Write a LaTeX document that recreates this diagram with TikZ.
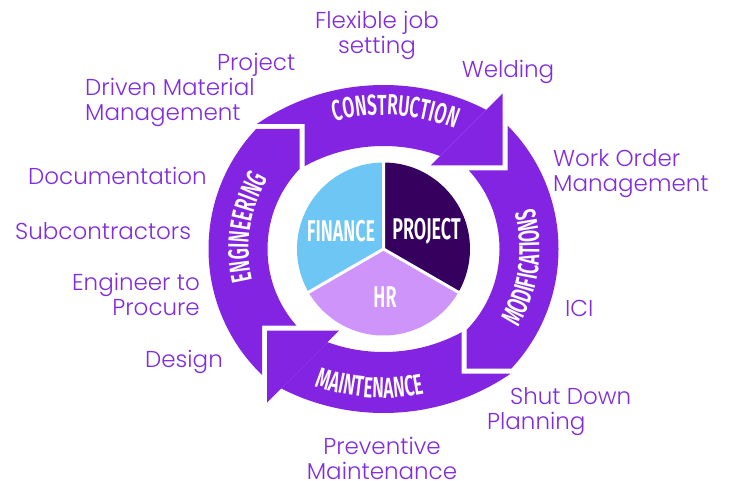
\documentclass[tikz,border=0pt]{standalone}
\usepackage{fontspec}
\usetikzlibrary{decorations.text}
\IfFontExistsTF{Poppins Light}{\newfontfamily\lblfont{Poppins Light}}{\newfontfamily\lblfont{Poppins}}
\IfFontExistsTF{Fira Sans SemiBold}{\newfontfamily\ringfont[FakeStretch=0.6]{Fira Sans SemiBold}}{\newfontfamily\ringfont[FakeStretch=0.6]{Fira Sans Bold}}
\definecolor{ringpurple}{RGB}{130,36,226}
\definecolor{labelpurple}{RGB}{128,44,224}
\definecolor{finblue}{RGB}{110,198,245}
\definecolor{projdark}{RGB}{54,0,94}
\definecolor{hrlilac}{RGB}{207,148,250}
\tikzset{
  ringfill/.style={fill=ringpurple},
  lbl/.style={text=labelpurple, inner sep=0pt, font=\lblfont\fontsize{23}{25}\selectfont},
  pietext/.style={text=white, inner sep=0pt, font=\ringfont\fontsize{30}{30}\selectfont},
  arctext/.style={decorate, decoration={text along path, text align=center, text color=white, text={|\ringfont\fontsize{29}{29}\selectfont|#1}}}
}
\begin{document}
\begin{tikzpicture}[x=1pt,y=-1pt]
\useasboundingbox (0,0) rectangle (736,481);
\coordinate (C) at (383.5,249);
\coordinate (C1) at (383.5,310);
\coordinate (C2) at (383.5,188);

% Engineering
\begin{scope}
\clip (299.5,129) -- (299.5,249) -- (330,249) -- (330,325.5) -- (262,325.5) -- (262,450) -- (150,450) -- (150,129) -- cycle;
\fill[ringfill, even odd rule] (C) circle[radius=175] (C) circle[radius=116];
\end{scope}
% Construction
\begin{scope}
\clip (304.5,124) -- (200,124) -- (200,0) -- (596,0) -- (396,200) -- (304.5,200) -- cycle;
\fill[ringfill, even odd rule] (C1) circle[radius=225] (C1) circle[radius=164];
\end{scope}
\fill[ringfill] (502.5,165.5) -- (502.5,93.5) -- (430.5,165.5) -- cycle;
% Modifications
\begin{scope}
\clip (507.5,170.5) -- (507.5,0) -- (736,0) -- (736,368.5) -- (466.5,368.5) -- (466.5,249) -- (440,249) -- (440,170.5) -- cycle;
\fill[ringfill, even odd rule] (C) circle[radius=175] (C) circle[radius=116];
\end{scope}
% Maintenance
\begin{scope}
\clip (461.5,373.5) -- (620,373.5) -- (620,481) -- (188.5,481) -- (369.5,300) -- (461.5,300) -- cycle;
\fill[ringfill, even odd rule] (C2) circle[radius=225] (C2) circle[radius=164];
\end{scope}
\fill[ringfill] (267,330.5) -- (339,330.5) -- (267,402.5) -- cycle;

% ring texts
\path[arctext=CONSTRUCTION] (C1) ++(-135:195) arc[start angle=-135, end angle=-38, radius=195];
\path[arctext=MAINTENANCE] (C2) ++(140:210) arc[start angle=140, end angle=48, radius=210];
\path[arctext=ENGINEERING] (C) ++(139:135) arc[start angle=139, end angle=239, radius=135];
\path[arctext=MODIFICATIONS] (C) ++(57.6:156) arc[start angle=57.6, end angle=-42.4, radius=156];

% pie
\fill[projdark] (C) -- ++(-90:86.5) arc[start angle=-90, end angle=30, radius=86.5] -- cycle;
\fill[hrlilac] (C) -- ++(30:86.5) arc[start angle=30, end angle=150, radius=86.5] -- cycle;
\fill[finblue] (C) -- ++(150:86.5) arc[start angle=150, end angle=270, radius=86.5] -- cycle;
\draw[white, line width=3] (C) -- ++(-90:88) (C) -- ++(30:88) (C) -- ++(150:88);
\node[pietext] (fin) at (341,231) {FINANCE};
\node[pietext] (prj) at (426.5,231) {PROJECT};
\node[pietext] (hr) at (385,297) {HR};

% labels
\node[lbl, align=center] (flex) at (377,35) {Flexible job\\setting};
\node[lbl] (weld) at (508,72) {Welding};
\node[lbl, align=left, anchor=west] (pdm) at (85,90) {\hspace*{132pt}Project\\Driven Material\\Management};
\node[lbl, align=left, anchor=west] (wom) at (553,174) {Work Order\\Management};
\node[lbl, anchor=west] (doc) at (28,176) {Documentation};
\node[lbl, anchor=west] (sub) at (15,231) {Subcontractors};
\node[lbl, align=right, anchor=east] (etp) at (200,294) {Engineer to\\Procure};
\node[lbl, anchor=west] (ici) at (565,308) {ICI};
\node[lbl, anchor=west] (des) at (145,362) {Design};
\node[lbl, align=left, anchor=west] (sdp) at (487,412) {\hspace*{23pt}Shut Down\\Planning};
\node[lbl, align=center] (pm) at (382,458) {Preventive\\Maintenance};
\end{tikzpicture}
\end{document}
